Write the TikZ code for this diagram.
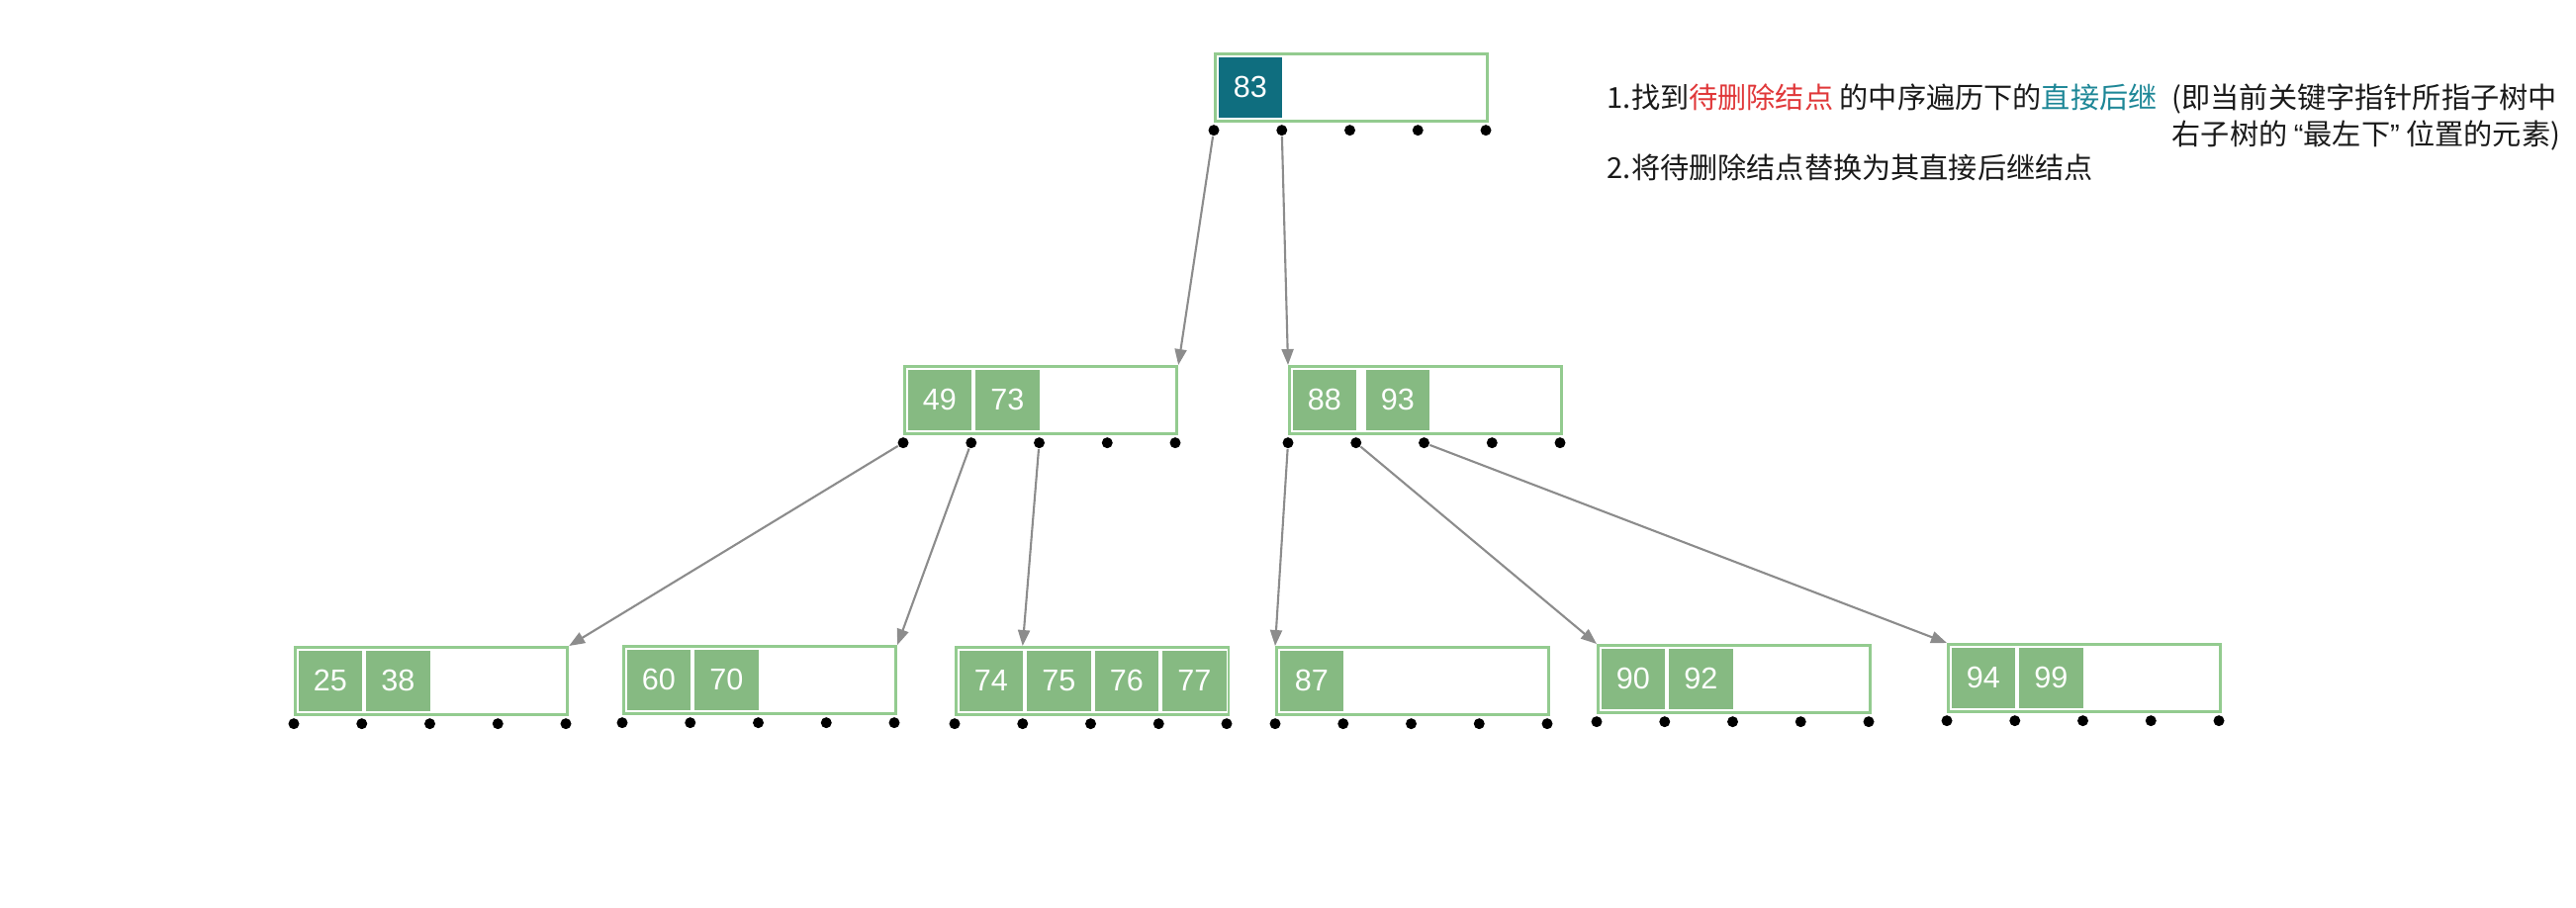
\documentclass[tikz,border=0pt]{standalone}
\usepackage{fontspec}
\setmainfont{Liberation Sans}
\newfontfamily\cjk{Noto Sans CJK SC}
\newfontfamily\latn{Liberation Sans}
\usepackage{xcolor}
\usepackage{tikz}
\usetikzlibrary{arrows.meta,positioning,calc}
\definecolor{leafgreen}{HTML}{86BA82}
\definecolor{rimgreen}{HTML}{93CB8F}
\definecolor{deepteal}{HTML}{0F6E7F}
\definecolor{hired}{HTML}{E0383A}
\definecolor{hiteal}{HTML}{1E8797}
\definecolor{wire}{HTML}{8C8C8C}
\definecolor{ink}{HTML}{1A1A1A}
\tikzset{
  bbox/.style={draw=rimgreen,line width=0.9pt,fill=white,minimum width=2.75cm,minimum height=0.68cm,inner sep=0pt},
  key/.style={fill=leafgreen,draw=white,line width=0.5pt,minimum width=0.66cm,minimum height=0.63cm,inner sep=0pt,text=white,font=\fontsize{8.7}{10}\selectfont},
  rootkey/.style={key,fill=deepteal},
  ptr/.style={circle,fill=black,minimum size=0.11cm,inner sep=0pt},
  arrow/.style={-{Triangle[length=1.6mm,width=1.2mm]},line width=0.6pt,color=wire},
  note/.style={font=\cjk\fontsize{8.3}{10.5}\selectfont,text=ink,anchor=north west,align=left,inner sep=0pt},
}
% #1 key style, #2 name, #3 x, #4 y (top left), #5 slot/key pairs
\newcommand{\bnode}[5][key]{%
  \node[bbox,anchor=north west] (#2) at (#3,#4) {};
  \foreach \p/\k in {#5} {
    \node[#1,anchor=north west] at ($(#2.north west)+(\p*0.685+0.03,-0.03)$) {\k};
  }
  \foreach \i in {0,...,4} {
    \node[ptr] (#2-\i) at ($(#2.south west)+(\i*0.6875,-0.075)$) {};
  }
}

\begin{document}
\begin{tikzpicture}[x=1cm,y=1cm]
  \useasboundingbox (0,0) rectangle (26.04,-9.17);
  % root
  \bnode[rootkey]{root}{12.27}{-0.53}{0/83}
  % second level
  \bnode{b4973}{9.13}{-3.69}{0/49,1/73}
  \bnode{b8893}{13.02}{-3.69}{0/88,1.08/93}
  % leaves
  \bnode{b2538}{2.97}{-6.53}{0/25,1/38}
  \bnode{b6070}{6.29}{-6.52}{0/60,1/70}
  \bnode{b7477}{9.65}{-6.53}{0/74,1/75,2/76,3/77}
  \bnode{b87}{12.89}{-6.53}{0/87}
  \bnode{b9092}{16.14}{-6.51}{0/90,1/92}
  \bnode{b9499}{19.68}{-6.50}{0/94,1/99}
  % pointers
  \draw[arrow] (root-0) -- (b4973.north east);
  \draw[arrow] (root-1) -- (b8893.north west);
  \draw[arrow] (b4973-0) -- (b2538.north east);
  \draw[arrow] (b4973-1) -- (b6070.north east);
  \draw[arrow] (b4973-2) -- ($(b7477.north west)+(0.6875,0)$) coordinate (t7477);
  \draw[arrow] (b8893-0) -- (b87.north west);
  \draw[arrow] (b8893-1) -- (b9092.north west);
  \draw[arrow] (b8893-2) -- (b9499.north west);
  % notes
  \node[note] (step1) at (16.24,-0.84) {1.找到\textcolor{hired}{待删除结点} 的中序遍历下的\textcolor{hiteal}{直接后继}};
  \node[note] (aside) at (21.95,-0.84) {(即当前关键字指针所指子树中\\右子树的 {\latn “}最左下{\latn ”} 位置的元素)};
  \node[note] (step2) at (16.24,-1.55) {2.将待删除结点替换为其直接后继结点};
\end{tikzpicture}
\end{document}
